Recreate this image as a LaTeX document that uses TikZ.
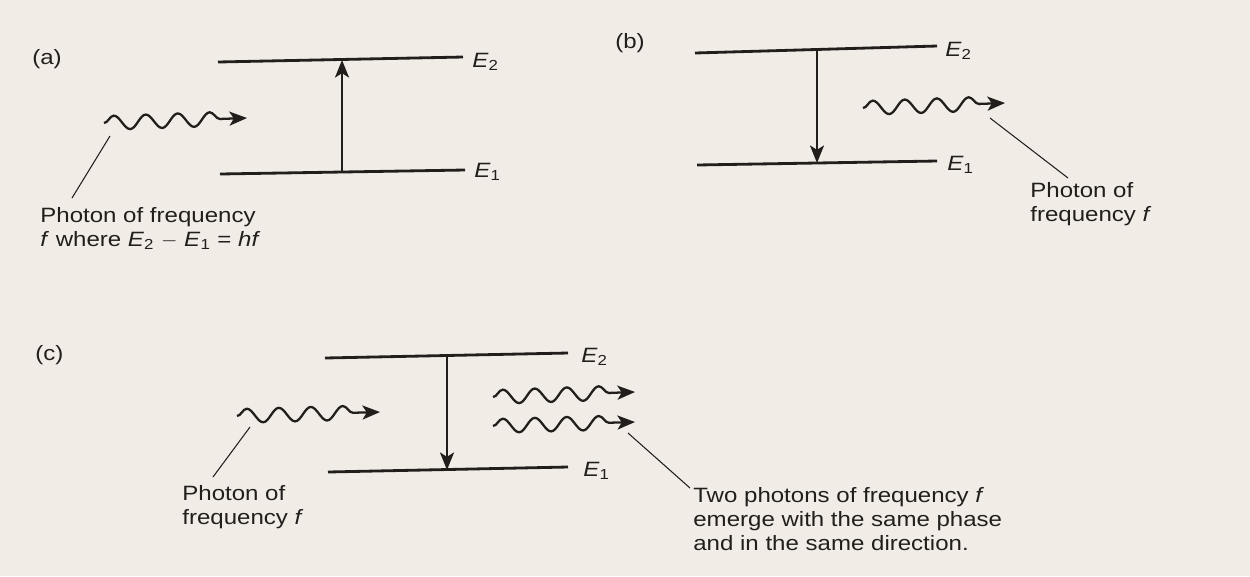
\documentclass[tikz,border=0pt]{standalone}
\usepackage{fontspec}
\setmainfont{Liberation Sans}[FakeStretch=1.16]
\usetikzlibrary{decorations.pathmorphing,arrows.meta}
\definecolor{paper}{RGB}{241,236,230}
\definecolor{ink}{RGB}{34,30,28}
\newcommand{\Ev}[1]{\textit{E}\textsubscript{#1}}
\begin{document}
\begin{tikzpicture}[x=0.02cm,y=-0.02cm,
  tip/.style={-{Stealth[length=10pt,width=8pt,inset=2.5pt]}},
  level/.style={draw=ink,line width=1.6pt},
  trans/.style={draw=ink,line width=1.2pt,tip},
  photon/.style={draw=ink,line width=1.3pt,tip,decorate,
    decoration={snake,segment length=0.64cm,amplitude=0.14cm,post length=0.25cm}},
  pointer/.style={draw=ink,line width=0.6pt},
  lbl/.style={text=ink,font=\fontsize{11.8}{13.7}\selectfont,inner sep=0pt},
  txt/.style={lbl,align=left,anchor=north west},
  elab/.style={lbl,anchor=base west},
  tag/.style={lbl,anchor=west},
]
\fill[paper] (0,0) rectangle (1250,576);
\useasboundingbox (0,0) rectangle (1250,576);

% ---------------- (a) ----------------
\node[tag] (atag) at (32,59.5) {(a)};
\coordinate (a2l) at (218,62); \coordinate (a2r) at (463,57);
\coordinate (a1l) at (220,174); \coordinate (a1r) at (465,170);
\draw[level] (a2l) -- (a2r);
\draw[level] (a1l) -- (a1r);
\node[elab] (aE2) at (472,67) {\Ev{2}};
\node[elab] (aE1) at (474,177) {\Ev{1}};
\coordinate (aup0) at (342,172); \coordinate (aup1) at (342,60);
\draw[trans] (aup0) -- (aup1);
\coordinate (aw0) at (104,123); \coordinate (aw1) at (247,118);
\draw[photon] (aw0) -- (aw1);
\node[txt] (atext) at (40,207) {Photon of frequency\\\textit{f} where \Ev{2} $-$ \Ev{1} = \textit{hf}};
\coordinate (ap0) at (110,136); \coordinate (ap1) at (72,198);
\draw[pointer] (ap0) -- (ap1);

% ---------------- (b) ----------------
\node[tag] (btag) at (615,43.5) {(b)};
\coordinate (b2l) at (695,53); \coordinate (b2r) at (937,46);
\coordinate (b1l) at (697,165); \coordinate (b1r) at (937,161);
\draw[level] (b2l) -- (b2r);
\draw[level] (b1l) -- (b1r);
\node[elab] (bE2) at (945,56) {\Ev{2}};
\node[elab] (bE1) at (947,170) {\Ev{1}};
\coordinate (bdn0) at (817,50); \coordinate (bdn1) at (817,163);
\draw[trans] (bdn0) -- (bdn1);
\coordinate (bw0) at (863,108); \coordinate (bw1) at (1005,103);
\draw[photon] (bw0) -- (bw1);
\node[txt] (btext) at (1030,182) {Photon of\\frequency \textit{f}};
\coordinate (bp0) at (990,118); \coordinate (bp1) at (1068,178);
\draw[pointer] (bp0) -- (bp1);

% ---------------- (c) ----------------
\node[tag] (ctag) at (35,355.5) {(c)};
\coordinate (c2l) at (325,358); \coordinate (c2r) at (568,353);
\coordinate (c1l) at (328,472); \coordinate (c1r) at (568,467);
\draw[level] (c2l) -- (c2r);
\draw[level] (c1l) -- (c1r);
\node[elab] (cE2) at (581,362) {\Ev{2}};
\node[elab] (cE1) at (583,476) {\Ev{1}};
\coordinate (cdn0) at (447,357); \coordinate (cdn1) at (447,470);
\draw[trans] (cdn0) -- (cdn1);
\coordinate (cw0) at (237,416); \coordinate (cw1) at (380,412);
\draw[photon] (cw0) -- (cw1);
\coordinate (cu0) at (493,397); \coordinate (cu1) at (635,392);
\draw[photon] (cu0) -- (cu1);
\coordinate (cl0) at (493,426); \coordinate (cl1) at (635,422);
\draw[photon] (cl0) -- (cl1);
\node[txt] (ctextl) at (182,485) {Photon of\\frequency \textit{f}};
\coordinate (cpl0) at (250,427); \coordinate (cpl1) at (213,477);
\draw[pointer] (cpl0) -- (cpl1);
\node[txt] (ctextr) at (693,487) {Two photons of frequency \textit{f}\\emerge with the same phase\\and in the same direction.};
\coordinate (cpr0) at (628,433); \coordinate (cpr1) at (690,488);
\draw[pointer] (cpr0) -- (cpr1);
\end{tikzpicture}
\end{document}
